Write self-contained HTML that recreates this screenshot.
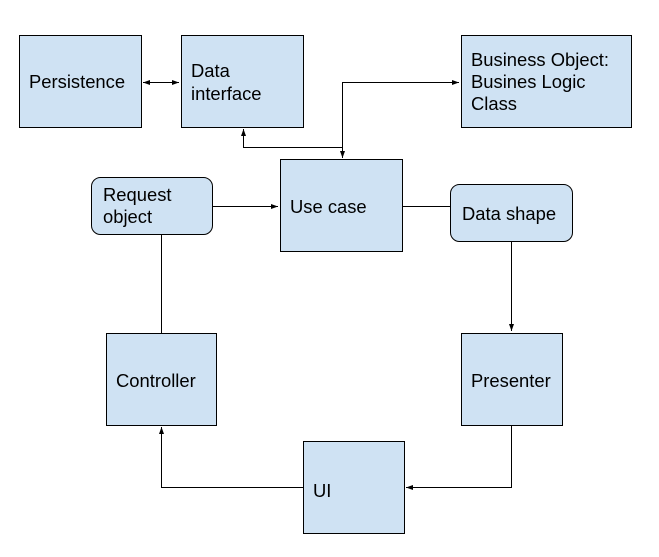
<!DOCTYPE html>
<html><head><style>
body{margin:0;background:#fff;}
svg text{font-family:"Liberation Sans",Arial,sans-serif;font-size:18.4px;fill:#000;}
</style></head><body>
<svg width="659" height="552" xmlns="http://www.w3.org/2000/svg">
<defs><marker id="a" markerWidth="8" markerHeight="8" refX="7" refY="4" orient="auto-start-reverse" markerUnits="userSpaceOnUse"><path d="M0,1.5 L7,4 L0,6.5z" fill="#000"/></marker></defs>
<g fill="#cfe2f3" stroke="#000" stroke-width="1">
<rect x="19.5" y="35.5" width="122" height="92"/>
<rect x="181.5" y="35.5" width="122" height="92"/>
<rect x="461.5" y="35.5" width="170" height="92"/>
<rect x="280.5" y="159.5" width="122" height="92"/>
<rect x="91.5" y="177.5" width="121" height="57" rx="9"/>
<rect x="450.5" y="184.5" width="122" height="57" rx="9"/>
<rect x="106.5" y="333.5" width="110" height="92"/>
<rect x="461.5" y="333.5" width="101" height="92"/>
<rect x="303.5" y="441.5" width="101" height="92"/>
</g>
<g fill="none" stroke="#000" stroke-width="1">
<line x1="143" y1="82.5" x2="179" y2="82.5" marker-start="url(#a)" marker-end="url(#a)"/>
<polyline points="342.5,158 342.5,82.5 459,82.5" marker-end="url(#a)"/>
<line x1="342.5" y1="147" x2="342.5" y2="158" marker-end="url(#a)"/>
<polyline points="342.5,147.5 243.5,147.5 243.5,129" marker-end="url(#a)"/>
<line x1="213" y1="206.5" x2="278" y2="206.5" marker-end="url(#a)"/>
<line x1="403" y1="206.5" x2="450" y2="206.5"/>
<line x1="511.5" y1="242" x2="511.5" y2="331" marker-end="url(#a)"/>
<polyline points="511.5,426 511.5,487.5 406,487.5" marker-end="url(#a)"/>
<polyline points="303,487.5 161.5,487.5 161.5,427" marker-end="url(#a)"/>
<line x1="161.5" y1="235" x2="161.5" y2="333"/>
</g>
<text x="29" y="88">Persistence</text>
<text x="191" y="77">Data</text>
<text x="191" y="100">interface</text>
<text x="471" y="66">Business Object:</text>
<text x="471" y="88">Busines Logic</text>
<text x="471" y="110">Class</text>
<text x="290" y="213">Use case</text>
<text x="103" y="201">Request</text>
<text x="103" y="223">object</text>
<text x="462" y="220">Data shape</text>
<text x="116" y="387">Controller</text>
<text x="471" y="387">Presenter</text>
<text x="313" y="497">UI</text>
</svg>
</body></html>
